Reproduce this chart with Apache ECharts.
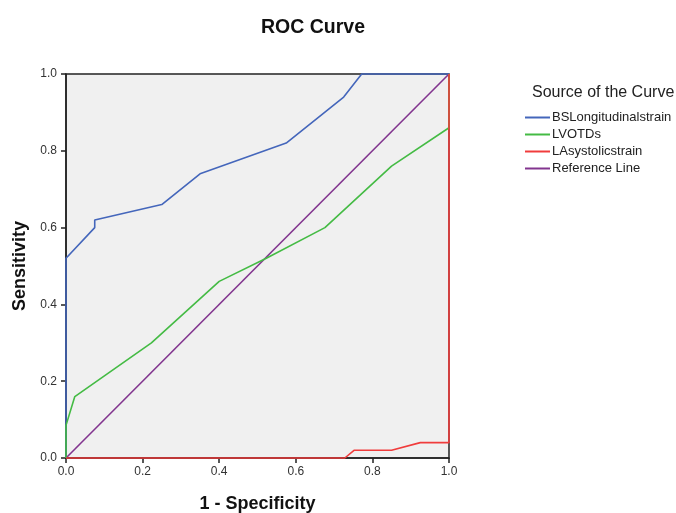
<!DOCTYPE html>
<html>
<head>
<meta charset="utf-8">
<title>ROC Curve</title>
<script src="https://cdn.jsdelivr.net/npm/echarts@6/dist/echarts.min.js"></script>
<style>
  html, body { margin: 0; padding: 0; background: #fff; }
  #chart { width: 676px; height: 513px; }
</style>
</head>
<body>
<div id="chart"></div>
<script>
var seriesNames = ["BSLongitudinalstrain", "LVOTDs", "LAsystolicstrain", "Reference Line"];
var seriesColors = ["#4466bb", "#44bb44", "#f03c3c", "#82358f"];

// 1 - specificity / sensitivity pairs
var bsX = [0, 0, 0.075, 0.075, 0.25, 0.35, 0.575, 0.725, 0.772, 1];
var bsY = [0, 0.52, 0.60, 0.62, 0.66, 0.74, 0.82, 0.94, 1.0, 1.0];

var lvX = [0, 0, 0.023, 0.223, 0.40, 0.523, 0.676, 0.85, 1, 1];
var lvY = [0, 0.085, 0.16, 0.30, 0.46, 0.52, 0.60, 0.76, 0.86, 1.0];

var laX = [0, 0.728, 0.752, 0.85, 0.925, 1, 1];
var laY = [0, 0, 0.02, 0.02, 0.04, 0.04, 1.0];

var refX = [0, 1];
var refY = [0, 1];

function pairs(xs, ys) {
  var out = [];
  for (var i = 0; i < xs.length; i++) out.push([xs[i], ys[i]]);
  return out;
}

var curves = [pairs(bsX, bsY), pairs(lvX, lvY), pairs(laX, laY), pairs(refX, refY)];

var chart = echarts.init(document.getElementById("chart"));

var series = [];
for (var i = 0; i < curves.length; i++) {
  series.push({
    name: seriesNames[i],
    type: "line",
    data: curves[i],
    symbol: "none",
    clip: false,
    lineStyle: { color: seriesColors[i], width: 1.6 },
    itemStyle: { color: seriesColors[i] },
    z: i == 3 ? 3 : 4
  });
}

var font = "Liberation Sans, Arial";

var axisCommon = {
  type: "value",
  min: 0,
  max: 1,
  interval: 0.2,
  splitLine: { show: false },
  axisLine: { show: true, lineStyle: { color: "#222", width: 1.5 } },
  axisTick: { show: true, inside: false, length: 5, lineStyle: { color: "#222", width: 1.5 } },
  axisLabel: {
    fontFamily: font,
    fontSize: 12,
    color: "#333",
    formatter: function (v) { return v.toFixed(1); }
  },
  nameTextStyle: {
    fontFamily: font,
    fontSize: 18,
    fontWeight: "bold",
    color: "#111"
  },
  nameLocation: "middle"
};

var option = {
  backgroundColor: "#fff",
  animation: false,
  title: [
    {
      text: "ROC Curve",
      left: 256,
      top: 13,
      textStyle: { fontFamily: font, fontSize: 19.5, fontWeight: "bold", color: "#111" }
    },
    {
      text: "Source of the Curve",
      left: 527,
      top: 80,
      textStyle: { fontFamily: font, fontSize: 16, fontWeight: "normal", color: "#222" }
    }
  ],
  legend: {
    orient: "vertical",
    left: 525,
    top: 111,
    padding: 0,
    icon: "rect",
    itemWidth: 25,
    itemHeight: 2,
    itemGap: 4,
    data: seriesNames,
    textStyle: { fontFamily: font, fontSize: 13, lineHeight: 13, color: "#222", padding: [0, 0, 0, -3] }
  },
  grid: {
    left: 66,
    top: 74,
    width: 383,
    height: 384,
    outerBoundsMode: "none",
    containLabel: false,
    show: true,
    backgroundColor: "#f0f0f0",
    borderColor: "#222",
    borderWidth: 1.5
  },
  xAxis: Object.assign({}, axisCommon, {
    name: "1 - Specificity",
    nameGap: 37,
    axisLabel: Object.assign({}, axisCommon.axisLabel, { margin: 8 })
  }),
  yAxis: Object.assign({}, axisCommon, {
    name: "Sensitivity",
    nameGap: 36,
    axisLabel: Object.assign({}, axisCommon.axisLabel, { margin: 9 })
  }),
  series: series
};

chart.setOption(option);
</script>
</body>
</html>
